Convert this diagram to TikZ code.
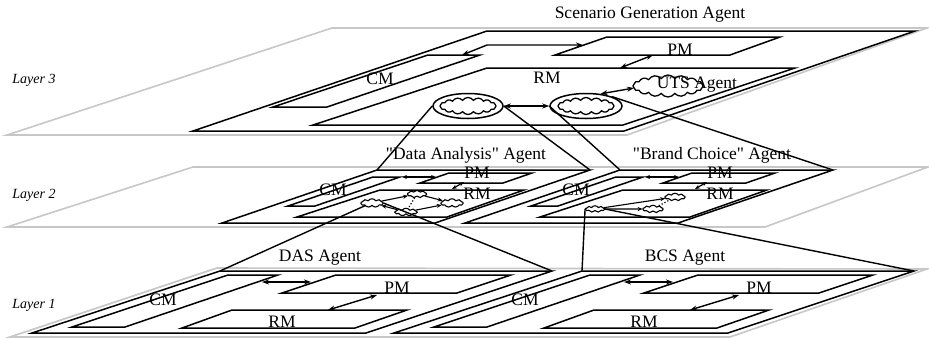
\documentclass[tikz,border=0pt]{standalone}
\usepackage{fontspec}
\setmainfont{Liberation Serif}
\newfontfamily\rawfont{Liberation Serif}
\usetikzlibrary{shapes.symbols,shapes.geometric,arrows.meta}
\newcommand\pgm[7]{\draw[box] (#2,#6) coordinate (#1-bl) -- (#3,#7) coordinate (#1-tl) -- (#4,#7) coordinate (#1-tr) -- (#5,#6) coordinate (#1-br) -- cycle;}
\newcommand\qq{{\rawfont"}}
\begin{document}
\begin{tikzpicture}[x=1pt,y=-1pt,
 plane/.style={draw=black!22, line width=1.6pt, line join=miter},
 box/.style={draw=black, line width=1.5pt, line join=miter},
 lbl/.style={font=\fontsize{17.5}{20}\selectfont, inner sep=0pt},
 lay/.style={font=\fontsize{14}{16}\selectfont\itshape, inner sep=0pt},
 link/.style={draw=black, line width=1.4pt},
 dbl/.style={draw, line width=1.4pt, {Stealth[length=7pt,width=5pt]}-{Stealth[length=7pt,width=5pt]}},
 sdbl/.style={draw, line width=1.2pt, {Stealth[length=5pt,width=4pt]}-{Stealth[length=5pt,width=4pt]}},
 sarr/.style={draw, line width=1.1pt, -{Stealth[length=5pt,width=4pt]}},
 ring/.style={ellipse, draw, line width=1.5pt, inner sep=0pt},
 bigcloud/.style={cloud, cloud puffs=16, cloud puff arc=110, draw, line width=1.3pt, inner sep=0pt, aspect=3},
 smallcloud/.style={cloud, cloud puffs=9, cloud puff arc=110, draw, line width=1.1pt, inner sep=0pt, minimum width=44pt, minimum height=17pt, aspect=2.6, scale=0.5, transform shape},
]
\useasboundingbox (0,0) rectangle (929,338);

% layer planes
\draw[plane] (7,135) coordinate (p3a) -- (332,28) coordinate (p3b) -- (927,28) coordinate (p3c) -- (627,135) coordinate (p3d) -- cycle;
\draw[plane] (7,227) coordinate (p2a) -- (193,167) coordinate (p2b) -- (928,167) coordinate (p2c) -- (765,227) coordinate (p2d) -- cycle;
\draw[plane] (10,337) coordinate (p1a) -- (217,268) coordinate (p1b) -- (927,269) coordinate (p1c) -- (730,337) coordinate (p1d) -- cycle;

\node[lay] (l3) at (34,80) {Layer 3};
\node[lay] (l2) at (34,195) {Layer 2};
\node[lay] (l1) at (34,305) {Layer 1};

% ---------- layer 3
\pgm{SG}{193}{487}{915}{624}{131}{31}
\pgm{RM3}{313}{487}{795}{623}{125}{68}
\pgm{CM3}{273}{428}{480}{327}{107}{55}
\pgm{PM3}{555}{607}{780}{730}{55}{37}
\node[lbl] (t3) at (650,15) {Scenario Generation Agent};
\node[lbl] (cm3) at (380,79) {CM};
\node[lbl] (rm3) at (547,78) {RM};
\node[lbl] (pm3) at (680,50) {PM};
\coordinate (c3a) at (462,55);
\coordinate (c3b) at (487,45);
\coordinate (c3c) at (583,45);
\draw[dbl] (c3a) -- (c3b) -- (c3c);
\coordinate (r3a) at (620,68);
\coordinate (r3b) at (653,55);
\draw[dbl] (r3a) -- (r3b);
\node[ring, minimum width=70pt, minimum height=25pt] (E1) at (468,106) {};
\node[bigcloud, minimum width=56pt, minimum height=17pt] (E1c) at (468,106) {};
\node[ring, minimum width=72pt, minimum height=25pt] (E2) at (586,106) {};
\node[bigcloud, minimum width=56pt, minimum height=17pt] (E2c) at (586,106) {};
\node[bigcloud, minimum width=70pt, minimum height=22pt] (UTS) at (668,86) {};
\node[lbl] (utst) at (697,85) {UTS Agent};
\coordinate (u3) at (634,88);
\draw[dbl] (E1.east) -- (E2.west);
\draw[dbl] (E2.40) -- (u3);

% ---------- layer 2 : Data Analysis
\pgm{DA}{222}{377}{590}{435}{223}{170}
\pgm{DACM}{288}{373}{400}{315}{206}{177}
\pgm{DAPM}{420}{449}{532}{503}{183}{173}
\pgm{DARM}{297}{380}{524}{447}{217}{190}
\node[lbl] (t2a) at (466,155) {\qq Data Analysis\qq{} Agent};
\node[lbl] (cm2a) at (333,190) {CM};
\node[lbl] (pm2a) at (477,173) {PM};
\node[lbl] (rm2a) at (477,194) {RM};
\coordinate (d2a) at (402,177);
\coordinate (d2b) at (436,177);
\draw[sdbl] (d2a) -- (d2b);
\coordinate (d2c) at (452,189);
\coordinate (d2d) at (464,182);
\draw[sdbl] (d2c) -- (d2d);
\node[smallcloud] (A) at (372,203) {};
\node[smallcloud, minimum width=38pt, minimum height=15pt] (B) at (417,194) {};
\node[smallcloud] (C) at (452,203) {};
\node[smallcloud, minimum height=15pt] (D) at (406,212) {};
\draw[sarr] (A) -- (B);
\draw[sarr] (B) -- (C);
\draw[sarr] (D) -- (C);
\draw[sarr] (D) -- (A);
\draw[dotted, line width=1.2pt] (B) -- (D);

% ---------- layer 2 : Brand Choice
\pgm{BC}{465}{620}{833}{678}{223}{170}
\pgm{BCCM}{531}{616}{643}{558}{206}{177}
\pgm{BCPM}{663}{692}{775}{746}{183}{173}
\pgm{BCRM}{540}{623}{767}{690}{217}{190}
\node[lbl] (t2b) at (712,155) {\qq Brand Choice\qq{} Agent};
\node[lbl] (cm2b) at (576,190) {CM};
\node[lbl] (pm2b) at (720,173) {PM};
\node[lbl] (rm2b) at (720,194) {RM};
\coordinate (b2a) at (645,177);
\coordinate (b2b) at (679,177);
\draw[sdbl] (b2a) -- (b2b);
\coordinate (b2c) at (695,189);
\coordinate (b2d) at (707,182);
\draw[sdbl] (b2c) -- (b2d);
\node[smallcloud, minimum width=38pt, minimum height=13pt] (S1) at (595,209) {};
\node[smallcloud, minimum width=40pt, minimum height=15pt] (S2) at (653,209) {};
\node[smallcloud, minimum width=40pt, minimum height=15pt] (S3) at (675,197) {};
\draw[sarr] (S1) -- (S2);
\draw[sarr] (S1) -- (S3);
\draw[dotted, line width=1.2pt] (S2) -- (S3);

% ---------- layer 1
\pgm{DAS}{32}{220}{552}{366}{333}{271}
\pgm{DASCM}{72}{228}{278}{125}{327}{275}
\pgm{DASPM}{282}{336}{511}{457}{293}{275}
\pgm{DASRM}{182}{232}{407}{355}{328}{310}
\node[lbl] (t1a) at (320,258) {DAS Agent};
\node[lbl] (cm1a) at (163,300) {CM};
\node[lbl] (pm1a) at (397,288) {PM};
\node[lbl] (rm1a) at (282,322) {RM};
\coordinate (e1a) at (262,282);
\coordinate (e1b) at (311,282);
\draw[dbl] (e1a) -- (e1b);
\coordinate (e1c) at (328,310);
\coordinate (e1d) at (377,295);
\draw[dbl] (e1c) -- (e1d);

\pgm{BCS}{394}{582}{914}{728}{333}{271}
\pgm{BCSCM}{434}{590}{640}{487}{327}{275}
\pgm{BCSPM}{644}{698}{873}{819}{293}{275}
\pgm{BCSRM}{544}{594}{769}{717}{328}{310}
\node[lbl] (t1b) at (685,258) {BCS Agent};
\node[lbl] (cm1b) at (525,300) {CM};
\node[lbl] (pm1b) at (759,288) {PM};
\node[lbl] (rm1b) at (644,322) {RM};
\coordinate (f1a) at (624,282);
\coordinate (f1b) at (673,282);
\draw[dbl] (f1a) -- (f1b);
\coordinate (f1c) at (690,310);
\coordinate (f1d) at (739,295);
\draw[dbl] (f1c) -- (f1d);

% ---------- links between layers
\draw[link] (E1.west) -- (DA-tl);
\draw[link] (E1.east) -- (DA-tr);
\draw[link] (E2.west) -- (BC-tl);
\draw[link] (E2.20) -- (BC-tr);
\draw[link] (A.south west) -- (DAS-tl);
\draw[link] (A.east) -- (DAS-tr);
\draw[link] (S1.west) -- (BCS-tl);
\draw[link] (S1.east) -- (BCS-tr);
\end{tikzpicture}
\end{document}
